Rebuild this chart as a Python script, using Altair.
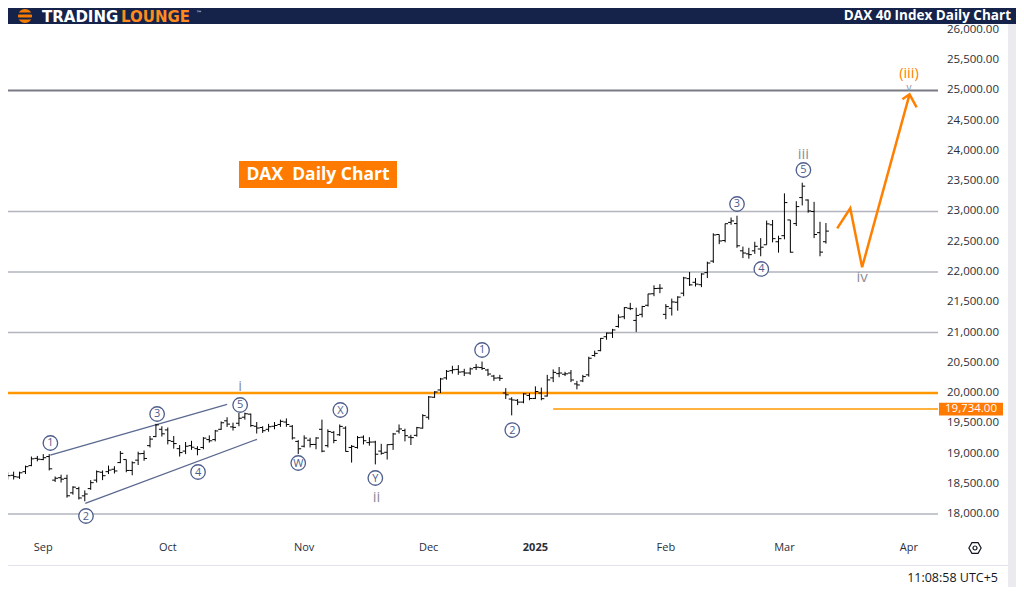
import altair as alt
import pandas as pd

# ---------------- data ----------------
dates = ["Aug 23","Aug 26","Aug 27","Aug 28","Aug 29","Aug 30",
         "Sep 2","Sep 3","Sep 4","Sep 5","Sep 6","Sep 9","Sep 10","Sep 11","Sep 12","Sep 13",
         "Sep 16","Sep 17","Sep 18","Sep 19","Sep 20","Sep 23","Sep 24","Sep 25","Sep 26","Sep 27","Sep 30",
         "Oct 1","Oct 2","Oct 3","Oct 4","Oct 7","Oct 8","Oct 9","Oct 10","Oct 11","Oct 14","Oct 15",
         "Oct 16","Oct 17","Oct 18","Oct 21","Oct 22","Oct 23","Oct 24","Oct 25","Oct 28","Oct 29","Oct 30","Oct 31",
         "Nov 1","Nov 4","Nov 5","Nov 6","Nov 7","Nov 8","Nov 11","Nov 12","Nov 13","Nov 14","Nov 15",
         "Nov 18","Nov 19","Nov 20","Nov 21","Nov 22","Nov 25","Nov 26","Nov 27","Nov 28","Nov 29",
         "Dec 2","Dec 3","Dec 4","Dec 5","Dec 6","Dec 9","Dec 10","Dec 11","Dec 12","Dec 13",
         "Dec 16","Dec 17","Dec 18","Dec 19","Dec 20","Dec 23","Dec 27","Dec 30",
         "Jan 2","Jan 3","Jan 6","Jan 7","Jan 8","Jan 9","Jan 10","Jan 13","Jan 14","Jan 15","Jan 16","Jan 17",
         "Jan 20","Jan 21","Jan 22","Jan 23","Jan 24","Jan 27","Jan 28","Jan 29","Jan 30","Jan 31",
         "Feb 3","Feb 4","Feb 5","Feb 6","Feb 7","Feb 10","Feb 11","Feb 12","Feb 13","Feb 14",
         "Feb 17","Feb 18","Feb 19","Feb 20","Feb 21","Feb 24","Feb 25","Feb 26","Feb 27","Feb 28",
         "Mar 3","Mar 4","Mar 5","Mar 6","Mar 7","Mar 10","Mar 11","Mar 12"]

opens = [18650,18640,18610,18700,18800,18920,
         18900,18950,18560,18600,18590,18350,18420,18300,18420,18560,
         18690,18700,18740,18850,18900,18720,18890,19000,19130,19280,19400,
         19390,19200,19080,19040,19130,19080,19100,19230,19230,19400,19540,
         19440,19500,19600,19650,19450,19430,19400,19450,19480,19520,19450,19200,
         19120,19220,19150,19400,19130,19350,19310,19420,19100,19100,19270,
         19180,19190,19040,19020,19150,19370,19380,19270,19300,19420,
         19600,19930,20050,20250,20370,20390,20350,20330,20420,20420,
         20380,20280,20250,20000,19900,19880,19850,19960,
         19910,20000,19950,20250,20320,20310,20330,20150,20200,20300,20620,20700,
         20930,20990,21100,21260,21400,21200,21300,21450,21640,21730,
         21300,21400,21500,21650,21890,21830,21790,21990,22180,22620,
         22520,22820,22800,22350,22300,22350,22380,22450,22780,22500,
         22600,22860,22800,23230,23190,23000,22650,22500]

highs = [18690,18700,18700,18800,18950,18960,
         18990,18990,18620,18650,18650,18460,18450,18390,18560,18720,
         18720,18800,18790,19040,18900,18870,19030,19050,19290,19490,19450,
         19430,19290,19140,19190,19210,19120,19270,19300,19390,19530,19600,
         19510,19670,19675,19660,19520,19450,19490,19520,19560,19580,19470,19220,
         19300,19260,19270,19560,19400,19370,19480,19450,19140,19290,19300,
         19270,19210,19160,19150,19340,19480,19410,19310,19440,19650,
         19950,20030,20250,20380,20450,20460,20400,20420,20480,20520,
         20400,20300,20300,20080,19930,19900,20000,20000,
         20110,20090,20300,20390,20430,20350,20380,20200,20300,20600,20700,20910,
         21000,21060,21300,21420,21490,21410,21440,21640,21780,21800,
         21470,21560,21600,21920,22000,21900,21980,22170,22640,22620,
         22800,22900,22930,22420,22400,22500,22560,22850,22860,22600,
         23300,22860,23170,23476,23200,23160,22830,22810]

lows = [18570,18570,18580,18660,18790,18870,
        18890,18720,18530,18520,18270,18320,18240,18210,18400,18520,
        18560,18660,18670,18840,18690,18640,18810,18880,19100,19270,19280,
        19150,19080,18950,18990,19060,18970,19070,19180,19200,19390,19440,
        19380,19450,19560,19440,19330,19340,19360,19400,19440,19440,19230,18990,
        19100,19100,19070,19020,19100,19170,19290,19030,18850,19080,19150,
        19130,18820,18980,18900,19060,19330,19200,19140,19280,19410,
        19560,19920,20000,20220,20320,20300,20280,20300,20380,20380,
        20280,20200,20200,19900,19630,19800,19830,19880,
        19900,19880,19940,20180,20260,20280,20180,20060,20180,20270,20600,20690,
        20880,20910,21080,21220,21370,21010,21250,21430,21600,21650,
        21220,21280,21360,21600,21770,21760,21750,21900,22150,22460,
        22490,22780,22400,22230,22220,22300,22260,22450,22490,22320,
        22540,22320,22760,23100,22980,22560,22260,22470]

closes = [18633,18617,18681,18782,18912,18906,
          18930,18747,18591,18576,18301,18444,18265,18330,18518,18699,
          18633,18726,18711,19002,18720,18847,18996,18918,19238,19473,19325,
          19213,19164,19015,19120,19104,19066,19254,19210,19373,19508,19486,
          19432,19583,19657,19461,19421,19377,19443,19463,19532,19479,19257,19078,
          19255,19149,19256,19039,19363,19216,19448,19034,19118,19263,19211,
          19189,18988,19004,19146,19323,19406,19295,19262,19426,19626,
          19934,20017,20232,20359,20385,20346,20330,20399,20426,20406,
          20314,20246,20242,19970,19885,19849,19985,19909,
          20025,19906,20216,20341,20330,20317,20215,20133,20271,20575,20655,20903,
          20990,21042,21254,21411,21394,21282,21430,21637,21727,21732,
          21428,21505,21585,21902,21787,21800,21967,22148,22612,22513,
          22798,22844,22433,22314,22287,22425,22410,22795,22551,22551,
          23147,22327,23081,23419,23009,22620,22329,22676]

first_index = -6          # Aug 23 is six sessions before Sep 2

# month labels (bar index of first session of each month)
month_ticks = [0, 21, 44, 65, 83, 105, 125, 146]
month_names = ["Sep", "Oct", "Nov", "Dec", "2025", "Feb", "Mar", "Apr"]
month_bold = [False, False, False, False, True, False, False, False]

price_ticks = list(range(18000, 26001, 500))

# drawn horizontal levels
gray_levels = [23000, 22000, 21000, 18000]
dark_levels = [25000]
orange_level = [20000]
support_level = [19734]
support_start = [86.0]

# wave channel
chan_i = [1.18, 31.0, 7.08, 36.04]
chan_p = [18975, 19813, 18177, 19235]
chan_seg = ["upper", "upper", "lower", "lower"]

# projected path
proj_i = [133.9, 136.1, 138.1, 146.1]
proj_p = [22722, 23053, 22078, 24937]
arrow_i = [144.9, 146.1, 147.3]
arrow_p = [24855, 24937, 24722]

# circled wave labels
circ_text = ["1", "2", "3", "4", "5", "W", "X", "Y", "1", "2", "3", "4", "5"]
circ_i = [1.2, 7.2, 19.2, 26.1, 33.2, 43.0, 50.1, 56.0, 74.0, 79.1, 117.0, 121.1, 128.2]
circ_p = [19174, 17967, 19653, 18694, 19802, 18843, 19719, 18595, 20711, 19388, 23124, 22050, 23686]

# gray wave labels
gray_text = ["i", "ii", "iii", "iv", "v"]
gray_i = [33.2, 56.2, 128.2, 138.1, 146.0]
gray_p = [20116, 18286, 23950, 21922, 25035]
gray_size = [15, 15, 15, 15, 10]

orange_text = ["(iii)"]
orange_i = [146.0]
orange_p = [25275]

# ---------------- styling ----------------
navy = "#15234b"
orange = "#ff8000"
wave_blue = "#4e5d8c"
axis_text = "#2a2e39"
FONT = "Open Sans"

W, H = 930, 513
xs = alt.Scale(domain=[-5.95, 150.9], nice=False, zero=False)
ys = alt.Scale(domain=[17620, 26099], nice=False, zero=False)

one = pd.DataFrame({"a": [0]})

ohlc = pd.DataFrame({
    "date": dates,
    "i": list(range(first_index, first_index + len(dates))),
    "open": opens, "high": highs, "low": lows, "close": closes,
})

layers = []

# frame: white chart area, right strip, footer separator
layers.append(alt.Chart(one).mark_rect(color="white").encode(
    x=alt.value(0), x2=alt.value(1000), y=alt.value(0), y2=alt.value(563)))
layers.append(alt.Chart(one).mark_rect(color="#ebebef").encode(
    x=alt.value(1000), x2=alt.value(1008), y=alt.value(0), y2=alt.value(563)))
layers.append(alt.Chart(one).mark_rule(color="#e0e3eb", strokeWidth=1).encode(
    x=alt.value(0), x2=alt.value(1000), y=alt.value(541.5)))

# header
layers.append(alt.Chart(one).mark_point(filled=True, color="#f57c00", opacity=1, size=200).encode(
    x=alt.value(17), y=alt.value(-8)))
layers.append(alt.Chart(one).mark_rule(color=navy, strokeWidth=2).encode(
    x=alt.value(9), x2=alt.value(25), y=alt.value(-10.5)))
layers.append(alt.Chart(one).mark_rule(color=navy, strokeWidth=2).encode(
    x=alt.value(9), x2=alt.value(25), y=alt.value(-5.5)))
layers.append(alt.Chart(one).mark_text(text="TRADING", font="DejaVu Sans", fontWeight="bold", fontSize=15,
                                       color="white", align="left", baseline="middle").encode(
    x=alt.value(34), y=alt.value(-7)))
layers.append(alt.Chart(one).mark_text(text="LOUNGE", font="DejaVu Sans", fontWeight="bold", fontSize=15,
                                       color="#ff8a1e", align="left", baseline="middle").encode(
    x=alt.value(113), y=alt.value(-7)))
layers.append(alt.Chart(one).mark_text(text="™", font="DejaVu Sans", fontSize=6,
                                       color="white", align="left", baseline="middle").encode(
    x=alt.value(188), y=alt.value(-11)))
layers.append(alt.Chart(one).mark_text(text="DAX 40 Index Daily Chart", font=FONT, fontWeight="bold",
                                       fontSize=13.5, color="white", align="right", baseline="middle").encode(
    x=alt.value(1003), y=alt.value(-8.5)))

# horizontal levels
layers.append(alt.Chart(pd.DataFrame({"p": gray_levels})).mark_rule(color="#b2b5be", strokeWidth=1.5).encode(
    y=alt.Y("p:Q", scale=ys, axis=None)))
layers.append(alt.Chart(pd.DataFrame({"p": dark_levels})).mark_rule(color="#787b86", strokeWidth=2).encode(
    y=alt.Y("p:Q", scale=ys, axis=None)))
layers.append(alt.Chart(pd.DataFrame({"p": orange_level})).mark_rule(color="#ff9800", strokeWidth=2.5).encode(
    y=alt.Y("p:Q", scale=ys, axis=None)))
layers.append(alt.Chart(pd.DataFrame({"p": support_level, "s": support_start})).mark_rule(
    color="#ff9800", strokeWidth=1.5).encode(
    x=alt.X("s:Q", scale=xs, axis=None), x2=alt.value(W), y=alt.Y("p:Q", scale=ys, axis=None)))

# channel lines
layers.append(alt.Chart(pd.DataFrame({"ci": chan_i, "cp": chan_p, "seg": chan_seg})).mark_line(
    color="#5b6990", strokeWidth=1.3).encode(
    x=alt.X("ci:Q", scale=xs, axis=None), y=alt.Y("cp:Q", scale=ys, axis=None), detail="seg:N"))

# OHLC bars
base = alt.Chart(ohlc).transform_calculate(il="datum.i - 0.5", ir="datum.i + 0.5")
layers.append(base.mark_rule(color="#000000", strokeWidth=1).encode(
    x=alt.X("i:Q", scale=xs, axis=None), y=alt.Y("low:Q", scale=ys, axis=None), y2="high:Q"))
layers.append(base.mark_rule(color="#000000", strokeWidth=1).encode(
    x=alt.X("il:Q", scale=xs, axis=None), x2="i:Q", y=alt.Y("open:Q", scale=ys, axis=None)))
layers.append(base.mark_rule(color="#000000", strokeWidth=1).encode(
    x=alt.X("i:Q", scale=xs, axis=None), x2="ir:Q", y=alt.Y("close:Q", scale=ys, axis=None)))

# projection
proj_df = pd.DataFrame({
    "pi": proj_i + arrow_i,
    "pp": proj_p + arrow_p,
    "seg": ["path"] * len(proj_i) + ["head"] * len(arrow_i),
    "k": list(range(len(proj_i))) + list(range(len(arrow_i))),
})
layers.append(alt.Chart(proj_df).mark_line(color=orange, strokeWidth=2.5, strokeJoin="miter").encode(
    x=alt.X("pi:Q", scale=xs, axis=None), y=alt.Y("pp:Q", scale=ys, axis=None),
    detail="seg:N", order="k:Q"))

# circled labels
circ_df = pd.DataFrame({"t": circ_text, "li": circ_i, "lp": circ_p})
layers.append(alt.Chart(circ_df).mark_point(shape="circle", size=210, fill="white", filled=False,
                                            stroke=wave_blue, strokeWidth=1.3, opacity=1, fillOpacity=1).encode(
    x=alt.X("li:Q", scale=xs, axis=None), y=alt.Y("lp:Q", scale=ys, axis=None)))
layers.append(alt.Chart(circ_df).mark_text(font=FONT, fontSize=11, color=wave_blue, baseline="middle",
                                           dy=0.5).encode(
    x=alt.X("li:Q", scale=xs, axis=None), y=alt.Y("lp:Q", scale=ys, axis=None), text="t:N"))

# gray labels
gray_df = pd.DataFrame({"t": gray_text, "li": gray_i, "lp": gray_p, "fs": gray_size})
layers.append(alt.Chart(gray_df).mark_text(font=FONT, color="#8c8f99", baseline="middle").encode(
    x=alt.X("li:Q", scale=xs, axis=None), y=alt.Y("lp:Q", scale=ys, axis=None), text="t:N",
    size=alt.Size("fs:Q", scale=None, legend=None)))

# orange target label
layers.append(alt.Chart(pd.DataFrame({"t": orange_text, "li": orange_i, "lp": orange_p})).mark_text(
    font=FONT, fontSize=14.5, color=orange, baseline="middle").encode(
    x=alt.X("li:Q", scale=xs, axis=None), y=alt.Y("lp:Q", scale=ys, axis=None), text="t:N"))

# DAX Daily Chart label box
layers.append(alt.Chart(one).mark_rect(color="#ff7a00").encode(
    x=alt.value(231), x2=alt.value(389), y=alt.value(137), y2=alt.value(164)))
layers.append(alt.Chart(one).mark_text(text="DAX\u00a0\u00a0Daily Chart", font=FONT, fontWeight="bold",
                                       fontSize=17.5, color="white", align="center", baseline="middle").encode(
    x=alt.value(310), y=alt.value(151)))

# price scale labels (positioned through the y scale)
layers.append(alt.Chart(pd.DataFrame({"p": price_ticks})).mark_text(
    font=FONT, fontSize=11.5, color=axis_text, align="left", baseline="middle").encode(
    x=alt.value(939), y=alt.Y("p:Q", scale=ys, axis=None), text=alt.Text("p:Q", format=",.2f")))

# time scale labels (positioned through the x scale)
month_df = pd.DataFrame({"m": month_ticks, "n": month_names, "b": month_bold})
for is_bold in (False, True):
    layers.append(alt.Chart(month_df[month_df["b"] == is_bold]).mark_text(
        font=FONT, fontSize=11, color=axis_text, align="center", baseline="middle",
        fontWeight="bold" if is_bold else "normal").encode(
        x=alt.X("m:Q", scale=xs, axis=None), y=alt.value(524), text="n:N"))

# price box on right scale
sup_df = pd.DataFrame({"p": support_level})
layers.append(alt.Chart(sup_df).mark_point(shape="M-1,-0.2L1,-0.2L1,0.2L-1,0.2Z", size=4096, filled=True,
                                           color="#ff7a00", opacity=1).encode(
    x=alt.value(963), y=alt.Y("p:Q", scale=ys, axis=None)))
layers.append(alt.Chart(sup_df).mark_text(font=FONT, fontSize=11.5, color="white", baseline="middle").encode(
    x=alt.value(963), y=alt.Y("p:Q", scale=ys, axis=None), text=alt.Text("p:Q", format=",.2f")))

# footer: gear icon and clock
layers.append(alt.Chart(one).mark_point(shape="M-1,0L-0.5,-0.866L0.5,-0.866L1,0L0.5,0.866L-0.5,0.866Z",
                                        size=150, filled=False, stroke="#131722", strokeWidth=1.2, opacity=1).encode(
    x=alt.value(967), y=alt.value(524)))
layers.append(alt.Chart(one).mark_point(shape="circle", size=16, filled=False, stroke="#131722",
                                        strokeWidth=1.2, opacity=1).encode(
    x=alt.value(967), y=alt.value(524)))
layers.append(alt.Chart(one).mark_text(text="11:08:58 UTC+5", font=FONT, fontSize=12.5, color="#131722",
                                       align="right", baseline="middle").encode(
    x=alt.value(990), y=alt.value(554)))

chart = alt.layer(*layers).properties(
    width=W, height=H,
    padding={"left": 0, "top": 16, "right": 78, "bottom": 50},
    autosize=alt.AutoSizeParams(type="none"),
).configure(background=navy).configure_view(stroke=None)

chart.save("out.html", embed_options={"renderer": "svg", "actions": False})
